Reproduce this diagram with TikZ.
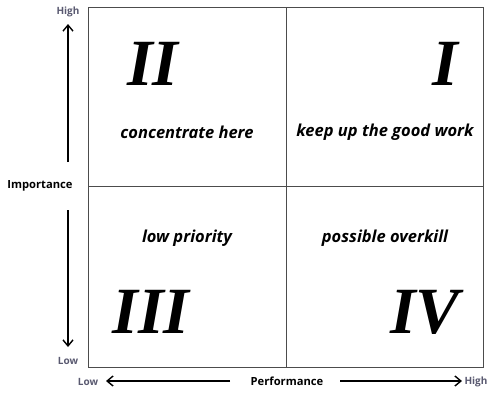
\documentclass[tikz,border=0pt]{standalone}
\usepackage{fontspec}
\setmainfont{Liberation Serif}
\setsansfont{Open Sans}
\usepackage{tikz}
\usetikzlibrary{positioning, arrows.meta}
\tikzset{
    x=1pt, y=-1pt, % pixel-like units, y grows downwards
    quad/.style={draw=black!70, line width=0.8pt}, % the four quadrants
    axis/.style={line width=1.4pt, -{Straight Barb[length=6pt,width=10pt,line width=1.4pt]}}, % axis arrows
    numeral/.style={font=\fontsize{66}{66}\selectfont\bfseries\itshape}, % quadrant numbers
    hint/.style={font=\sffamily\fontsize{16.5}{17}\selectfont\bfseries\itshape}, % quadrant captions
    tick/.style={font=\sffamily\fontsize{10}{10}\selectfont\bfseries, text=black!70!blue!30!gray}, % High / Low
    title/.style={font=\sffamily\fontsize{11.2}{12}\selectfont\bfseries}, % axis names
}
\begin{document}
\begin{tikzpicture}
    \useasboundingbox (0,0) rectangle (491,392);
    % quadrants
    \draw[quad] (88,7) rectangle (483,367);
    \draw[quad] (286,7) -- (286,367);
    \draw[quad] (88,186) -- (483,186);
    % numbers
    \node[numeral] (n2) at (153,64) {II};
    \node[numeral] (n1) at (445,64) {I};
    \node[numeral] (n3) at (151,312) {III};
    \node[numeral] (n4) at (425,312) {IV};
    % captions
    \node[hint] (c2) at (187,132) {concentrate here};
    \node[hint] (c1) at (385,132) {keep up the good work};
    \node[hint] (c3) at (187,238) {low priority};
    \node[hint] (c4) at (385,238) {possible overkill};
    % importance axis
    \node[tick] (yhi) at (68,12) {High};
    \node[tick] (ylo) at (68,361) {Low};
    \node[title] (ytitle) at (40,186) {Importance};
    \coordinate (ytop) at (68,24);
    \coordinate (ybot) at (68,347);
    \draw[axis] (68,162) -- (ytop);
    \draw[axis] (68,210) -- (ybot);
    % performance axis
    \node[tick] (xlo) at (88,382) {Low};
    \node[tick] (xhi) at (476,382) {High};
    \node[title] (xtitle) at (287,381) {Performance};
    \coordinate (xleft) at (106,381);
    \coordinate (xright) at (462,381);
    \draw[axis] (230,381) -- (xleft);
    \draw[axis] (340,381) -- (xright);
\end{tikzpicture}
\end{document}
